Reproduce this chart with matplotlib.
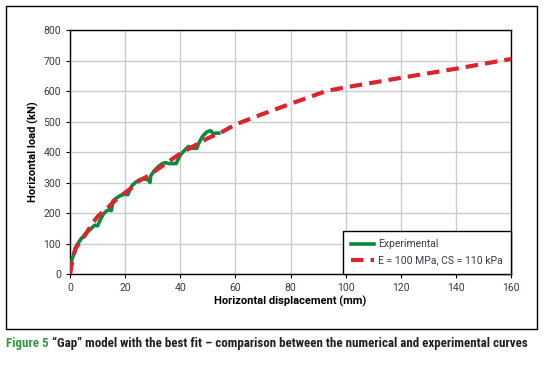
import matplotlib
matplotlib.use("Agg")
import matplotlib.pyplot as plt
from matplotlib.patches import Rectangle
from matplotlib import font_manager

exp_x = [0, 0.5, 1.5, 2.5, 4, 6, 8, 9, 10, 11, 12, 13, 14, 15, 15.6, 17, 18.5, 20, 21, 21.5, 22.5, 24, 25.5, 27, 28.5, 29, 29.3, 30.5, 32, 33.5, 34.5, 36, 38, 38.5, 40, 41.5, 43, 44, 46, 46.5, 48, 49.5, 51, 52, 53, 54]
exp_y = [0, 40, 70, 95, 115, 135, 152, 160, 158, 178, 195, 205, 210, 208, 240, 250, 258, 262, 260, 272, 290, 302, 310, 312, 308, 300, 322, 338, 352, 362, 365, 362, 362, 362, 390, 405, 418, 412, 412, 425, 450, 465, 470, 460, 462, 462]
num_x = [0, 1, 2, 4, 6, 8, 10, 12, 14, 16, 19, 22, 25, 28, 32, 36, 40, 45, 50, 55, 60, 70, 80, 93, 100, 120, 140, 160]
num_y = [0, 50, 85, 108, 135, 165, 188, 205, 220, 238, 260, 280, 305, 320, 345, 370, 395, 420, 445, 465, 490, 525, 558, 600, 612, 643, 673, 705]

x_ticks = list(range(0, 161, 20))
y_ticks = list(range(0, 801, 100))

names = {f.name for f in font_manager.fontManager.ttflist}
cond = None
for c in ['Roboto Condensed', 'Open Sans Condensed', 'DejaVu Sans Condensed', 'Liberation Sans Narrow']:
    if c in names:
        cond = c
        break
base = 'Roboto' if 'Roboto' in names else 'DejaVu Sans'
capfont = cond if cond else base

plt.rcParams['font.family'] = [base, 'DejaVu Sans']

fig = plt.figure(figsize=(5.48, 3.66), dpi=100)
W, H = 548, 366
ax = fig.add_axes([70 / W, 1 - 274 / H, 441 / W, 244 / H])

ax.grid(True, color='#cccccc', linewidth=1.0)
ax.set_axisbelow(True)
ax.plot(exp_x, exp_y, color='#0a8a3c', linewidth=2.6, label='Experimental', zorder=3)
ax.plot(num_x, num_y, color='#d9262e', linewidth=3.0, dashes=(3.0, 1.7), label='E = 100 MPa, CS = 110 kPa', zorder=4)

ax.set_xlim(0, 160)
ax.set_ylim(0, 800)
ax.set_xticks(x_ticks)
ax.set_yticks(y_ticks)
ax.tick_params(labelsize=7.5, colors='black', labelcolor='#3a3a4a', length=3, width=0.8, direction='out')
for s in ax.spines.values():
    s.set_color('black')
    s.set_linewidth(1.0)

ax.set_xlabel('Horizontal displacement (mm)', fontsize=8, fontweight='bold', labelpad=2)
ax.set_ylabel('Horizontal load (kN)', fontsize=8, fontweight='bold', labelpad=3)

leg = ax.legend(loc='lower right', fontsize=7.5, frameon=True, fancybox=False,
                borderaxespad=0, handlelength=2.2, handletextpad=0.4, borderpad=0.8, labelspacing=0.6,
                edgecolor='black', framealpha=1)
leg.get_frame().set_linewidth(1.0)
for t in leg.get_texts():
    t.set_color('#3a3a4a')

# outer border
fig.patches.append(Rectangle((6 / W, 1 - 329 / H), 531 / W, 323 / H, transform=fig.transFigure,
                             fill=False, edgecolor='black', linewidth=1.0))

# caption, size fitted to the reference width
cap_rest = '\u201cGap\u201d model with the best fit \u2013 comparison between the numerical and experimental curves'
size = 9.0
for _ in range(3):
    for a in list(fig.texts):
        a.remove()
    t1 = fig.text(6 / W, 1 - 343 / H, 'Figure 5', fontsize=size, fontweight='bold', color='#2e9a3e',
                  family=[capfont, 'DejaVu Sans'], va='center', ha='left')
    fig.canvas.draw()
    bb = t1.get_window_extent()
    t2 = fig.text((bb.x1 + 3) / W, 1 - 343 / H, cap_rest,
                  fontsize=size, fontweight='bold', color='#231f20', family=[capfont, 'DejaVu Sans'],
                  va='center', ha='left')
    fig.canvas.draw()
    right = t2.get_window_extent().x1
    size = size * (532 - 6) / (right - 6)

fig.savefig('out.png', dpi=100)
